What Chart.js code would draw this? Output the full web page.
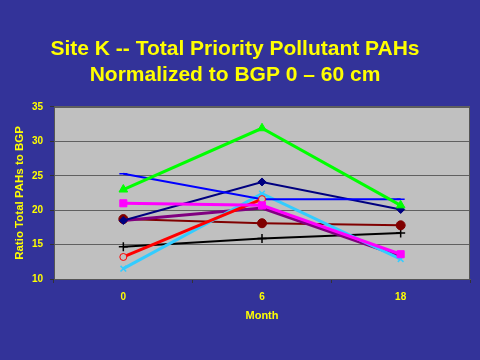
<!DOCTYPE html>
<html>
<head>
<meta charset="utf-8">
<script src="https://cdn.jsdelivr.net/npm/chart.js@4/dist/chart.umd.min.js"></script>
<style>
  html, body { margin: 0; padding: 0; background: #333399; }
  #wrap { width: 480px; height: 360px; }
</style>
</head>
<body>
<div id="wrap"><canvas id="myChart" width="480" height="360"></canvas></div>
<script>
//Data
let months = ['0', '6', '18'];
let greenVals = [23.0, 31.9, 20.7];
let blueVals = [25.3, 21.6, 21.6];
let navyVals = [18.5, 24.1, 20.1];
let magentaVals = [21.0, 20.7, 13.6];
let purpleVals = [18.5, 20.3, 13.3];
let maroonVals = [18.7, 18.1, 17.8];
let blackVals = [14.7, 15.9, 16.7];
let redVals = [13.2, 21.6, null];
let cyanVals = [11.5, 22.4, 12.9];
let yTicks = [10, 15, 20, 25, 30, 35];

const yellow = '#FFFF00';
const gridGray = '#606060';

function series(data, color, width, style, radius, fill) {
  return {
    data: data,
    borderColor: color,
    backgroundColor: fill === undefined ? color : fill,
    borderWidth: width,
    pointStyle: style,
    pointRadius: radius,
    pointBorderColor: color,
    pointBorderWidth: style === 'cross' || style === 'crossRot' || style === 'line' ? 1.5 : 1,
    pointBackgroundColor: fill === undefined ? color : fill,
    tension: 0,
    spanGaps: false
  };
}

// plot background + frame
const plotBox = {
  id: 'plotBox',
  beforeDraw(chart) {
    const {ctx, chartArea: a} = chart;
    ctx.save();
    ctx.fillStyle = '#C0C0C0';
    ctx.fillRect(a.left, a.top, a.right - a.left, a.bottom - a.top);
    ctx.restore();
  },
  afterDatasetsDraw(chart) {
    const {ctx, chartArea: a} = chart;
    ctx.save();
    ctx.strokeStyle = '#555555';
    ctx.lineWidth = 1;
    ctx.strokeRect(a.left + 0.5, a.top + 0.5, a.right - a.left - 1, a.bottom - a.top);
    ctx.restore();
  }
};

var ctx = document.getElementById('myChart').getContext('2d');
var myChart = new Chart(ctx, {
  type: 'line',
  data: {
    labels: months,
    datasets: [
      series(magentaVals, '#FF00FF', 3, 'rect', 5),
      series(redVals, '#FF0000', 3, 'circle', 3.5, '#C0C0C0'),
      series(greenVals, '#00FF00', 3, 'triangle', 5),
      series(blueVals, '#0000FF', 2, 'line', 4),
      series(navyVals, '#000080', 2, 'rectRot', 4),
      series(cyanVals, '#33CCFF', 3, 'crossRot', 4),
      series(purpleVals, '#800080', 3, 'rect', 0),
      series(maroonVals, '#800000', 2, 'circle', 4.5),
      series(blackVals, '#000000', 2, 'cross', 4.5)
    ]
  },
  options: {
    responsive: false,
    animation: false,
    layout: { padding: { left: 0, right: 10, top: 0, bottom: 0 } },
    plugins: {
      legend: { display: false },
      tooltip: { enabled: false },
      title: {
        display: true,
        text: ['Site K -- Total Priority Pollutant PAHs', 'Normalized to BGP 0 \u2013 60 cm'],
        color: yellow,
        font: { family: 'Liberation Sans, Arial, sans-serif', size: 21, weight: 'bold', lineHeight: 1.26 },
        padding: { top: 36, bottom: 18 }
      }
    },
    scales: {
      x: {
        offset: true,
        grid: { offset: true, drawOnChartArea: false, drawTicks: true, tickLength: 4, color: '#333333' },
        border: { color: '#555555' },
        ticks: {
          color: yellow,
          padding: 8,
          font: { family: 'Liberation Sans, Arial, sans-serif', size: 10, weight: 'bold' }
        },
        title: {
          display: true,
          text: 'Month',
          color: yellow,
          font: { family: 'Liberation Sans, Arial, sans-serif', size: 11, weight: 'bold', lineHeight: 1.2 },
          padding: { top: 0, bottom: 37 }
        },
        afterFit(scale) { scale.height = 81; }
      },
      y: {
        min: 10,
        max: 35,
        afterBuildTicks(scale) { scale.ticks = yTicks.map(v => ({ value: v })); },
        grid: { color: gridGray, tickLength: 4, tickColor: '#333333' },
        border: { color: '#555555' },
        ticks: {
          color: yellow,
          padding: 7,
          font: { family: 'Liberation Sans, Arial, sans-serif', size: 10, weight: 'bold' }
        },
        title: {
          display: true,
          text: 'Ratio Total PAHs to BGP',
          color: yellow,
          font: { family: 'Liberation Sans, Arial, sans-serif', size: 11.5, weight: 'bold', lineHeight: 1.2 },
          padding: { top: 13, bottom: 0 }
        },
        afterFit(scale) { scale.width = 54; }
      }
    }
  },
  plugins: [plotBox]
});
</script>
</body>
</html>
